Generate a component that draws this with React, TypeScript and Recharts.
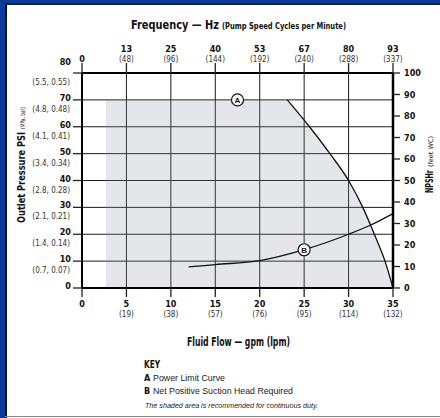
import React from 'react';
import { Area, CartesianGrid, ComposedChart, Line, ReferenceDot, XAxis, YAxis } from 'recharts';

// eixo inferior: vazão em gpm (lpm)
const FLOW_TICKS = [0, 5, 10, 15, 20, 25, 30, 35];
const LPM_LABELS = ['', '(19)', '(38)', '(57)', '(76)', '(95)', '(114)', '(132)'];
// eixo superior: frequência Hz (ciclos por minuto)
const HZ_LABELS = ['0', '13', '25', '40', '53', '67', '80', '93'];
const CPM_LABELS = ['', '(48)', '(96)', '(144)', '(192)', '(240)', '(288)', '(337)'];
// pressão PSI (MPa, bar)
const PSI_TICKS = [0, 10, 20, 30, 40, 50, 60, 70, 80];
const PSI_SUB = ['', '(0.7, 0.07)', '(1.4, 0.14)', '(2.1, 0.21)', '(2.8, 0.28)', '(3.4, 0.34)', '(4.1, 0.41)', '(4.8, 0.48)', '(5.5, 0.55)'];
const NPSH_TICKS = [0, 10, 20, 30, 40, 50, 60, 70, 80, 90, 100];

// A — curva limite de potência
const powerFlow = [23.1, 25.6, 27.9, 30, 31.6, 32.9, 34.1, 35];
const powerPsi = [70, 60, 50, 40, 30, 20, 10, 0];
// início da área sombreada (serviço contínuo), topo plano em 70 psi
const shadeStartFlow = 2.7;
const shadeTopPsi = 70;
// B — NPSHr (pés de coluna d'água)
const npshFlow = [12, 15, 20, 25, 30, 32.5, 35];
const npshFt = [9.8, 10.9, 12.7, 17.8, 25, 29.3, 34.6];

const markA = { flow: 17.5, psi: 70 };
const markB = { flow: 25, ft: 17.8 };

const powerData = powerFlow.map((f, i) => ({ flow: f, psi: powerPsi[i] }));
const shadeData = [{ flow: shadeStartFlow, psi: shadeTopPsi }, ...powerData];
const npshData = npshFlow.map((f, i) => ({ flow: f, ft: npshFt[i] }));

// grade em zigue-zague (uma Line por direção); as voltas caem nas bordas, sob os eixos
const psiLo = PSI_TICKS[0];
const psiHi = PSI_TICKS[PSI_TICKS.length - 1];
const flowLo = FLOW_TICKS[0];
const flowHi = FLOW_TICKS[FLOW_TICKS.length - 1];
const gridV = FLOW_TICKS.slice(1, -1).flatMap((t, k) =>
  k % 2 === 0 ? [{ flow: t, psi: psiLo }, { flow: t, psi: psiHi }] : [{ flow: t, psi: psiHi }, { flow: t, psi: psiLo }],
);
const gridH = PSI_TICKS.slice(1, -1).flatMap((t, k) =>
  k % 2 === 0 ? [{ flow: flowLo, psi: t }, { flow: flowHi, psi: t }] : [{ flow: flowHi, psi: t }, { flow: flowLo, psi: t }],
);

const W = 440;
const H = 418;
const MARGIN = { top: 43, right: 7, bottom: 90, left: 12 };

const FONT = '"Liberation Sans Narrow", "DejaVu Sans Condensed", "Arial Narrow", sans-serif';
const BODY = '"Liberation Sans", Arial, sans-serif';
const INK = '#111';
const GRID = '#1c1c1c';
// sombreado translúcido: a grade fica num gráfico por baixo e aparece através dele
const SHADE = '#8a8f99';
const SHADE_OPACITY = 0.22;

function BottomTick({ x, y, payload }: any) {
  const i = FLOW_TICKS.indexOf(payload.value);
  return (
    <g fontFamily={FONT}>
      <text x={x} y={y + 8} textAnchor="middle" fontSize={9} fontWeight="bold" fill={INK}>
        {payload.value}
      </text>
      <text x={x} y={y + 18} textAnchor="middle" fontSize={8} fill="#333">
        {LPM_LABELS[i]}
      </text>
    </g>
  );
}

function TopTick({ x, y, payload }: any) {
  const i = FLOW_TICKS.indexOf(payload.value);
  if (!CPM_LABELS[i]) {
    return (
      <text x={x} y={y + 1} textAnchor="middle" fontSize={9} fontWeight="bold" fill={INK} fontFamily={FONT}>
        {HZ_LABELS[i]}
      </text>
    );
  }
  return (
    <g fontFamily={FONT}>
      <text x={x} y={y - 9} textAnchor="middle" fontSize={9} fontWeight="bold" fill={INK}>
        {HZ_LABELS[i]}
      </text>
      <text x={x} y={y + 1} textAnchor="middle" fontSize={8} fill="#333">
        {CPM_LABELS[i]}
      </text>
    </g>
  );
}

function LeftTick({ x, y, payload }: any) {
  const i = PSI_TICKS.indexOf(payload.value);
  const lift = payload.value === 80 ? -9 : 0;
  return (
    <g fontFamily={FONT}>
      <text x={x} y={y + 1 + lift} textAnchor="end" fontSize={9} fontWeight="bold" fill={INK}>
        {payload.value}
      </text>
      <text x={x - 1} y={y + 12} textAnchor="end" fontSize={8} fill="#333">
        {PSI_SUB[i]}
      </text>
    </g>
  );
}

function RightTick({ x, y, payload }: any) {
  return (
    <text x={x} y={y + 3} textAnchor="start" fontSize={9} fontWeight="bold" fill={INK} fontFamily={FONT}>
      {payload.value}
    </text>
  );
}

function Marker({ cx, cy, letter }: any) {
  return (
    <g>
      <circle cx={cx} cy={cy} r={6} fill="#fff" stroke={INK} strokeWidth={1.2} />
      <text x={cx} y={cy + 3} textAnchor="middle" fontSize={8} fontWeight="bold" fill={INK} fontFamily={BODY}>
        {letter}
      </text>
    </g>
  );
}

// gráfico só com a grade, mesmas margens e eixos (invisíveis), desenhado por baixo
function GridLayer() {
  return (
    <ComposedChart width={W} height={H} margin={MARGIN}>
      <CartesianGrid xAxisId="flow" yAxisId="psi" stroke={GRID} />
      <XAxis xAxisId="flow" dataKey="flow" type="number" domain={[0, 35]} ticks={FLOW_TICKS} height={40} tick={false} axisLine={false} tickLine={false} />
      <XAxis xAxisId="freq" dataKey="flow" type="number" domain={[0, 35]} ticks={FLOW_TICKS} orientation="top" height={30} tick={false} axisLine={false} tickLine={false} />
      <YAxis yAxisId="psi" type="number" domain={[0, 80]} ticks={PSI_TICKS} width={70} tick={false} axisLine={false} tickLine={false} />
      <YAxis yAxisId="npsh" orientation="right" type="number" domain={[0, 100]} ticks={NPSH_TICKS} width={40} tick={false} axisLine={false} tickLine={false} />
      <Line xAxisId="flow" yAxisId="psi" data={gridV} dataKey="psi" stroke={GRID} dot={false} isAnimationActive={false} />
      <Line xAxisId="flow" yAxisId="psi" data={gridH} dataKey="psi" stroke={GRID} dot={false} isAnimationActive={false} />
    </ComposedChart>
  );
}

export default function App() {
  return (
    <div style={{ position: 'absolute', left: 0, top: 0, width: W, height: H, background: '#fff', overflow: 'hidden' }}>
      {/* moldura azul da ficha técnica */}
      <div style={{ position: 'absolute', left: 0, top: 0, width: 440, height: 3, background: '#0b3a9c' }} />
      <div style={{ position: 'absolute', left: 0, top: 0, width: 5, height: 418, background: '#0b3a9c' }} />
      <div style={{ position: 'absolute', left: 5, top: 3, width: 435, height: 1.5, background: '#222' }} />
      <div style={{ position: 'absolute', left: 5, top: 3, width: 1.7, height: 415, background: '#111' }} />
      <div style={{ position: 'absolute', left: 5, top: 416, width: 435, height: 1.2, background: '#8a8a8a' }} />

      <div style={{ position: 'absolute', left: 0, top: 0 }}>
        <GridLayer />
      </div>

      <svg width={W} height={H} style={{ position: 'absolute', left: 0, top: 0, pointerEvents: 'none' }}>
        <g fontFamily={FONT} fontWeight="bold" fill={INK}>
          <text x={131} y={29} fontSize={12.5} textLength={88} lengthAdjust="spacingAndGlyphs">Frequency — Hz</text>
          <text x={222} y={29} fontSize={8.5} textLength={124} lengthAdjust="spacingAndGlyphs">(Pump Speed Cycles per Minute)</text>
          <g transform="translate(25,223) rotate(-90)">
            <text x={0} y={0} fontSize={11} textLength={91} lengthAdjust="spacingAndGlyphs">Outlet Pressure PSI</text>
            <text x={94} y={0} fontSize={6.5} fontWeight="normal" textLength={22} lengthAdjust="spacingAndGlyphs">(MPa, bar)</text>
          </g>
          <g transform="translate(433,193) rotate(-90)">
            <text x={0} y={0} fontSize={11} textLength={23} lengthAdjust="spacingAndGlyphs">NPSHr</text>
            <text x={26} y={0} fontSize={6.5} fontWeight="normal" textLength={31} lengthAdjust="spacingAndGlyphs">(feet WC)</text>
          </g>
          <text x={187} y={346} fontSize={11.5} textLength={103} lengthAdjust="spacingAndGlyphs">Fluid Flow — gpm (lpm)</text>
          <text x={144} y={368} fontSize={10} textLength={16} lengthAdjust="spacingAndGlyphs">KEY</text>
          <text x={144} y={381} fontSize={9}>A</text>
          <text x={144} y={393.5} fontSize={9}>B</text>
        </g>
        <g fontFamily={BODY} fill="#222">
          <text x={153} y={381} fontSize={8.4} textLength={72} lengthAdjust="spacingAndGlyphs">Power Limit Curve</text>
          <text x={153} y={393.5} fontSize={8.4} textLength={140} lengthAdjust="spacingAndGlyphs">Net Positive Suction Head Required</text>
          <text x={145} y={408} fontSize={7.2} fontStyle="italic" textLength={173} lengthAdjust="spacingAndGlyphs">
            The shaded area is recommended for continuous duty.
          </text>
        </g>
      </svg>

      <div style={{ position: 'absolute', left: 0, top: 0 }}>
        <ComposedChart width={W} height={H} margin={MARGIN}>
          <XAxis
            xAxisId="flow"
            dataKey="flow"
            type="number"
            domain={[0, 35]}
            ticks={FLOW_TICKS}
            orientation="bottom"
            height={40}
            tickSize={9}
            tickMargin={2}
            axisLine={{ stroke: '#000', strokeWidth: 2 }}
            tickLine={{ stroke: '#222', strokeWidth: 1.3 }}
            tick={BottomTick}
            interval={0}
          />
          <XAxis
            xAxisId="freq"
            dataKey="flow"
            type="number"
            domain={[0, 35]}
            ticks={FLOW_TICKS}
            orientation="top"
            height={30}
            tickSize={10}
            tickMargin={2}
            axisLine={{ stroke: '#000', strokeWidth: 2 }}
            tickLine={{ stroke: '#222', strokeWidth: 1.3 }}
            tick={TopTick}
            interval={0}
          />
          <YAxis
            yAxisId="psi"
            type="number"
            domain={[0, 80]}
            ticks={PSI_TICKS}
            width={70}
            tickSize={9}
            tickMargin={2}
            axisLine={{ stroke: '#000', strokeWidth: 2 }}
            tickLine={{ stroke: '#222', strokeWidth: 1.3 }}
            tick={LeftTick}
            interval={0}
          />
          <YAxis
            yAxisId="npsh"
            orientation="right"
            type="number"
            domain={[0, 100]}
            ticks={NPSH_TICKS}
            width={40}
            tickSize={7}
            tickMargin={4}
            axisLine={{ stroke: '#000', strokeWidth: 2.5 }}
            tickLine={{ stroke: '#222', strokeWidth: 1.3 }}
            tick={RightTick}
            interval={0}
          />

          <Area
            xAxisId="freq"
            yAxisId="psi"
            data={shadeData}
            dataKey="psi"
            type="linear"
            fill={SHADE}
            fillOpacity={SHADE_OPACITY}
            stroke="none"
            isAnimationActive={false}
          />
          <Line
            xAxisId="flow"
            yAxisId="psi"
            data={powerData}
            dataKey="psi"
            type="monotone"
            stroke={INK}
            strokeWidth={1.3}
            dot={false}
            isAnimationActive={false}
          />
          <Line
            xAxisId="flow"
            yAxisId="npsh"
            data={npshData}
            dataKey="ft"
            type="monotone"
            stroke={INK}
            strokeWidth={1.3}
            dot={false}
            isAnimationActive={false}
          />
          <ReferenceDot
            xAxisId="flow"
            yAxisId="psi"
            x={markA.flow}
            y={markA.psi}
            shape={(p: any) => <Marker {...p} letter="A" />}
          />
          <ReferenceDot
            xAxisId="flow"
            yAxisId="npsh"
            x={markB.flow}
            y={markB.ft}
            shape={(p: any) => <Marker {...p} letter="B" />}
          />
        </ComposedChart>
      </div>
    </div>
  );
}
